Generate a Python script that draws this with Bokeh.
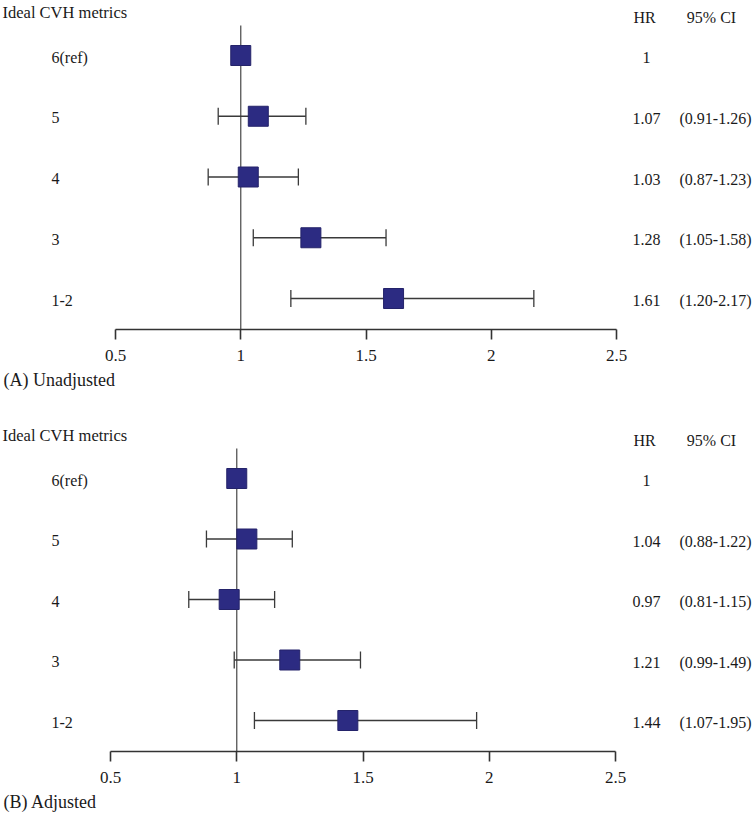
import numpy as np
from bokeh.plotting import figure
from bokeh.models import FixedTicker, Title
from bokeh.layouts import column
from bokeh.embed import file_html
from bokeh.resources import INLINE
from bokeh.core.properties import value

# ---------------- data ----------------
categories = ["6(ref)", "5", "4", "3", "1-2"]
row_pos = [5, 4, 3, 2, 1]

hr_unadj = [1.00, 1.07, 1.03, 1.28, 1.61]
lo_unadj = [None, 0.91, 0.87, 1.05, 1.20]
hi_unadj = [None, 1.26, 1.23, 1.58, 2.17]

hr_adj = [1.00, 1.04, 0.97, 1.21, 1.44]
lo_adj = [None, 0.88, 0.81, 0.99, 1.07]
hi_adj = [None, 1.22, 1.15, 1.49, 1.95]

tick_values = [0.5, 1, 1.5, 2, 2.5]
tick_labels = ["0.5", "1", "1.5", "2", "2.5"]
ref_value = 1

header_left = "Ideal CVH metrics"
header_hr = "HR"
header_ci = "95% CI"
panel_titles = ["(A) Unadjusted", "(B) Adjusted"]

# ---------------- style ----------------
FONT = "'Liberation Serif', 'Times New Roman', serif"
TXT = "#1a1a1a"
SQ = "#2c2b82"
LINE = "#3a3a3a"
W = 755
OFF = 0  # page offset of the figure


def make_panel(hr, lo, hi, title, height, frame_h, row1_page, row_sp,
               px_05, px_25, top_page):
    ppu = (px_25 - px_05) / 2.0
    x0 = 0.5 - (px_05 - OFF) / ppu
    x1 = x0 + W / ppu
    frame_bottom = top_page + frame_h

    def xd(page_x):
        return 0.5 + (page_x - px_05) / ppu

    def yd(page_y):
        return 1 + (row1_page - page_y) / row_sp

    y0 = yd(frame_bottom)
    y1 = yd(top_page)
    row5_page = row1_page - 4 * row_sp

    p = figure(width=W, height=height, x_range=(x0, x1), y_range=(y0, y1),
               output_backend="svg", toolbar_location=None,
               y_axis_location=None, min_border_left=0, min_border_right=0,
               min_border_top=0, min_border_bottom=height - frame_h)
    p.outline_line_color = None
    p.xgrid.visible = False
    p.ygrid.visible = False
    p.background_fill_color = "white"
    p.border_fill_color = "white"

    ax = p.xaxis[0]
    ax.ticker = FixedTicker(ticks=tick_values)
    ax.major_label_overrides = {v: l for v, l in zip(tick_values, tick_labels)}
    ax.bounds = (tick_values[0], tick_values[-1])
    ax.minor_tick_line_color = None
    ax.major_tick_in = 0
    ax.major_tick_out = 10
    ax.axis_line_width = 1.6
    ax.axis_line_color = "#333333"
    ax.major_tick_line_width = 1.6
    ax.major_tick_line_color = "#333333"
    ax.major_label_text_font = FONT
    ax.major_label_text_font_size = "17px"
    ax.major_label_text_color = TXT
    ax.major_label_standoff = 10

    t = Title(text=title, align="left", text_font=FONT, text_font_size="18px",
              text_font_style="normal", text_color=TXT, standoff=8, offset=3)
    p.add_layout(t, "below")

    # reference line
    p.segment(x0=[ref_value], x1=[ref_value], y0=[y0], y1=[yd(row5_page - 30)],
              line_color="#555555", line_width=1.3)

    # CIs
    ci_y = [r for r, l in zip(row_pos, lo) if l is not None]
    ci_lo = [l for l in lo if l is not None]
    ci_hi = [h for h in hi if h is not None]
    p.segment(x0=ci_lo, x1=ci_hi, y0=ci_y, y1=ci_y, line_color=LINE, line_width=1.3)
    p.scatter(x=ci_lo + ci_hi, y=ci_y + ci_y, marker="dash", angle=np.pi / 2,
              size=17, line_color=LINE, line_width=1.3)

    # squares
    p.scatter(x=hr, y=row_pos, marker="square", size=20, fill_color=SQ,
              line_color="#24236a", line_width=1)

    # texts
    common = dict(text_font=value(FONT), text_color=TXT, text_baseline="middle")
    p.text(x=[xd(2)], y=[yd(row5_page - 43)], text=[header_left], text_align="left",
           text_font_size="16.5px", **common)
    hr_hdr_y = yd(row5_page - 38)
    p.text(x=[xd(644)], y=[hr_hdr_y], text=[header_hr], text_align="center",
           text_font_size="16px", **common)
    p.text(x=[xd(711)], y=[hr_hdr_y], text=[header_ci], text_align="center",
           text_font_size="16px", **common)

    lab_y = [r - 1.5 / row_sp for r in row_pos]
    p.text(x=[xd(51)] * len(categories), y=lab_y, text=categories,
           text_align="left", text_font_size="16px", **common)

    hr_txt = ["1" if l is None else f"{h:.2f}" for h, l in zip(hr, lo)]
    val_y = [r - 2.0 / row_sp for r in row_pos]
    p.text(x=[xd(646)] * len(hr_txt), y=val_y, text=hr_txt,
           text_align="center", text_font_size="16px", **common)
    ci_txt = ["" if l is None else f"({l:.2f}-{h:.2f})" for l, h in zip(lo, hi)]
    p.text(x=[xd(751)] * len(ci_txt), y=val_y, text=ci_txt,
           text_align="right", text_font_size="16px", **common)
    return p


pA = make_panel(hr_unadj, lo_unadj, hi_unadj, panel_titles[0],
                height=414, frame_h=329, row1_page=298, row_sp=60.75,
                px_05=115, px_25=616, top_page=0)
pB = make_panel(hr_adj, lo_adj, hi_adj, panel_titles[1],
                height=403, frame_h=337, row1_page=720, row_sp=60.5,
                px_05=110, px_25=615, top_page=414)

layout = column(pA, pB, spacing=0)
open("out.html", "w").write(file_html(layout, INLINE))
